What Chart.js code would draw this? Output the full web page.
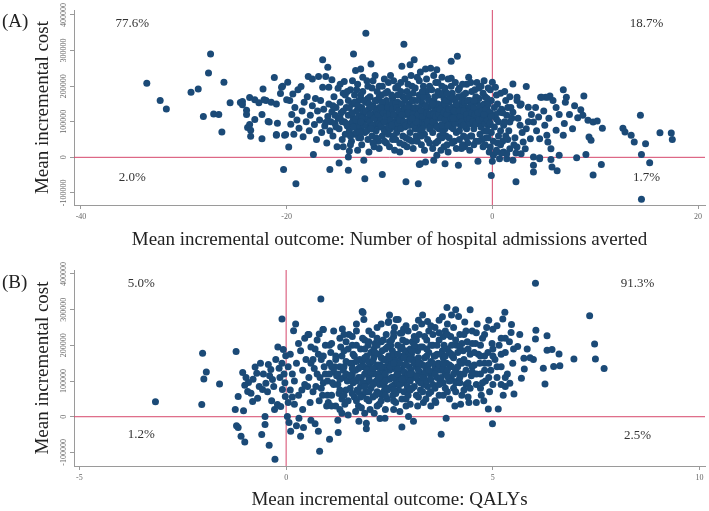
<!DOCTYPE html>
<html>
<head>
<meta charset="utf-8">
<script src="https://cdn.jsdelivr.net/npm/chart.js@4.4.1/dist/chart.umd.min.js"></script>
<style>
  html, body { margin: 0; padding: 0; background: #fff; }
  #wrap { position: relative; width: 709px; height: 511px; }
  .panel { position: absolute; left: 0; width: 709px; }
</style>
</head>
<body>
<div id="wrap">
  <div class="panel" style="top:0;height:255px"><canvas id="chartA" width="709" height="255"></canvas></div>
  <div class="panel" style="top:255px;height:256px"><canvas id="chartB" width="709" height="256"></canvas></div>
</div>
<script>
// Panel A: [hospital admissions averted, incremental cost in thousands]
const panelA = [
  [-33.6,208],[-32.3,160],[-31.7,136],[-29.3,183],[-28.6,192],[-28.1,115],[-27.4,290],[-27.6,237],[-27.1,122],[-26.6,120],[-26.1,211],[-26.3,71],[-25.5,153],
  [-24.5,154],[-24.3,157],[-24.3,148],[-23.9,132],[-23.9,120],[-23.8,84],[-23.5,76],[-23.5,59],[-23.6,168],[-23.1,162],[-22.7,153],[-22.3,192],[-22.4,120],[-23.1,106],[-23.6,92],[-22.4,52],[-21.7,99],[-20.9,96],[-21.2,224],[-21.0,64],[-22.0,160],[-21.5,155],[-21.0,150],[-20.5,197],[-21.8,101],[-21.0,62],[-20.2,62],[-20.0,162],[-22.2,162],
  [-19.9,211],[-19.8,29],[-19.7,160],[-19.6,93],[-19.5,120],[-19.4,178],[-19.3,65],[-19.2,140],[-19.0,105],[-18.9,190],[-18.8,82],[-18.6,199],[-18.5,130],[-18.4,58],[-18.3,155],[-18.1,100],[-18.0,170],[-17.9,227],[-17.8,75],[-17.7,118],[-17.5,220],[-17.5,145],[-17.4,8],[-17.3,92],[-17.2,165],[-17.1,50],[-17.0,130],[-19.1,-74],[-20.3,-34],[-20.4,200],[-20.6,179],[-20.1,64],
  [-16.9,227],[-16.8,105],[-16.7,160],[-16.6,70],[-16.5,274],[-16.5,197],[-16.4,135],[-16.3,88],[-16.2,227],[-16.1,40],[-16.0,253],[-16.0,115],[-15.9,197],[-15.9,150],[-15.8,-34],[-15.8,75],[-15.7,100],[-15.6,218],[-15.6,128],[-15.5,60],[-15.4,170],[-15.3,95],[-15.2,140],[-15.1,30],[-15.0,194],[-15.0,110],[-14.9,-16],[-14.9,80],[-14.8,155],[-14.7,125],[-14.6,50],[-14.5,180],[-14.4,213],[-14.4,100],[-14.3,65],[-14.2,140],[-14.1,88],[-14.0,-36],[-14.0,1],[-14.0,160],[-14.0,118],[-13.9,18],[-14.6,100],[-15.3,118],[-16.2,98],
  [-13.9,75],[-13.8,120],[-13.8,190],[-13.7,45],[-13.7,95],[-13.6,150],[-13.5,290],[-13.5,110],[-13.4,65],[-13.4,175],[-13.3,244],[-13.3,85],[-13.2,130],[-13.1,100],[-13.1,205],[-13.0,55],[-13.0,160],[-12.9,115],[-12.8,248],[-12.8,80],[-12.7,140],[-12.7,35],[-12.6,95],[-12.6,185],[-12.5,-8],[-12.5,125],[-12.4,-60],[-12.4,70],[-12.3,349],[-12.3,155],[-12.2,105],[-12.2,215],[-12.1,50],[-12.0,135],[-12.0,88],[-11.9,170],[-11.8,262],[-11.8,112],[-11.7,60],[-11.7,195],[-11.6,145],[-11.5,90],[-11.5,30],[-11.4,125],[-11.4,230],[-11.3,75],[-11.2,160],[-11.2,105],[-11.1,45],[-11.0,140],[-11.0,200],[-10.9,85],[-10.8,120],[-10.8,175],[-10.7,-48],[-10.7,60],[-10.6,100],[-10.6,150],[-10.5,220],[-10.4,80],[-10.4,130],[-10.3,40],[-10.2,110],[-10.2,185],[-10.1,65],[-10.0,145],[-10.0,95],
  [-13.6,100],[-13.2,70],[-12.9,140],[-12.4,110],[-12.1,165],[-11.6,80],[-11.3,130],[-10.9,110],[-10.5,75],[-10.1,125],[-13.0,90],[-12.6,125],[-11.9,100],[-11.0,95],[-10.3,160],
  [-9.9,230],[-9.9,80],[-9.8,120],[-9.7,50],[-9.7,165],[-9.6,100],[-9.5,140],[-9.5,20],[-9.4,195],[-9.3,70],[-9.3,115],[-9.2,155],[-9.1,90],[-9.0,40],[-9.0,130],[-8.9,210],[-8.8,256],[-8.8,105],[-8.7,60],[-8.7,170],[-8.6,318],[-8.6,140],[-8.5,85],[-8.4,-69],[-8.4,120],[-8.3,30],[-8.3,185],[-8.2,100],[-8.1,150],[-8.0,260],[-8.0,70],[-7.9,125],[-7.8,200],[-7.8,45],[-7.7,95],[-7.6,274],[-7.6,160],[-7.5,110],[-7.4,60],[-7.4,135],[-7.3,225],[-7.2,-74],[-7.2,85],[-7.1,-20],[-7.1,175],[-7.0,240],[-7.0,120],[-7.0,-18],[-6.9,35],[-6.8,150],[-6.8,95],[-6.7,200],[-6.6,65],[-6.6,130],[-6.5,248],[-6.5,-13],[-6.4,105],[-6.3,170],[-6.3,50],[-6.2,140],[-6.1,80],[-6.0,250],[-6.0,115],
  [-9.8,150],[-9.4,85],[-9.1,110],[-8.9,125],[-8.5,160],[-8.1,90],[-7.9,140],[-7.5,80],[-7.2,105],[-6.9,100],[-6.6,110],[-6.2,95],[-9.6,60],[-8.4,55],[-7.7,180],[-6.4,185],[-9.2,175],[-8.0,110],[-6.9,160],[-7.3,130],
  [-5.9,190],[-5.8,70],[-5.8,125],[-5.7,-8],[-5.7,160],[-5.6,95],[-5.5,210],[-5.5,40],[-5.4,246],[-5.4,6],[-5.4,135],[-5.3,110],[-5.2,175],[-5.1,60],[-5.0,145],[-5.0,90],[-4.9,200],[-4.8,120],[-4.7,30],[-4.7,165],[-4.6,-18],[-4.6,80],[-4.5,140],[-4.4,100],[-4.3,220],[-4.2,55],[-4.2,155],[-4.1,115],[-4.0,270],[-4.0,222],[-4.0,85],[-3.9,180],[-3.8,130],[-3.7,45],[-3.7,100],[-3.6,160],[-3.5,70],[-3.4,284],[-3.4,140],[-3.3,-22],[-3.3,115],[-3.2,195],[-3.1,90],[-3.0,25],[-3.0,150],[-2.9,120],[-2.8,60],[-2.8,175],[-2.7,100],[-2.6,140],[-2.5,205],[-2.5,80],[-2.4,40],[-2.3,225],[-2.3,125],[-2.2,160],[-2.1,95],[-2.0,60],[-2.0,185],
  [-5.9,100],[-5.6,140],[-5.2,80],[-4.9,110],[-4.5,60],[-4.3,130],[-3.9,100],[-3.6,115],[-3.2,75],[-2.9,140],[-2.6,110],[-2.2,130],[-5.3,185],[-4.8,150],[-3.8,165],[-3.1,170],[-5.0,20],[-4.4,35],[-2.7,30],[-2.1,60],
  [-1.9,150],[-1.8,80],[-1.8,110],[-1.7,190],[-1.6,45],[-1.5,130],[-1.4,-11],[-1.4,95],[-1.3,165],[-1.2,65],[-1.2,120],[-1.1,200],[-1.0,100],[-0.9,140],[-0.9,30],[-0.8,75],[-0.7,170],[-0.6,110],[-0.6,55],[-0.5,135],[-0.4,195],[-0.4,90],[-0.3,15],[-0.2,29],[-0.2,125],[-0.1,-51],[-0.1,160],[-0.1,70],[-1.5,210],[-0.8,215],[-0.3,100],[-1.0,50],[-1.6,170],[-0.5,75],
  [0.0,211],[0.3,197],[0.8,180],[2.0,206],[3.3,199],[2.4,160],[2.8,150],[2.4,169],[2.7,146],[2.0,127],[1.4,118],[0.7,127],[0.4,108],[1.1,90],[1.7,99],[2.7,90],[0.4,20],[0.1,6],[0.7,-4],[1.4,-4],[2.0,-8],[1.1,15],[1.7,24],[2.4,29],[2.3,-69],[0.0,-11],[2.3,12],[2.8,10],[1.4,10],[0.9,12],[0.4,15],[0.5,150],[0.9,135],[1.3,160],[1.6,75],[0.2,85],[0.6,60],[1.0,45],[2.2,55],[2.5,110],[1.8,140],[0.3,120],[1.2,100],[2.9,70],
  [3.5,141],[4.7,169],[5.2,169],[5.6,172],[5.9,160],[4.0,99],[4.5,113],[4.8,169],[5.4,169],[5.1,90],[5.3,62],[4.6,52],[3.7,52],[3.0,43],[3.2,24],[4.0,1],[4.0,-22],[4.0,-41],[4.6,-4],[5.4,43],[5.7,24],[4.6,-1],[5.7,-6],[5.8,-27],[3.3,80],[3.8,120],[4.3,75],[5.0,130],[3.5,100],[4.2,140],[5.5,110],
  [6.9,190],[7.2,169],[7.1,155],[7.5,120],[8.3,111],[8.9,172],[8.6,134],[8.8,118],[9.3,104],[9.8,99],[6.9,62],[6.2,76],[6.5,6],[6.3,-38],[9.6,48],[9.4,57],[9.1,8],[8.2,-1],[6.5,120],[7.0,95],[7.8,80],[6.2,140],[8.0,145],
  [10.2,102],[10.7,82],[10.6,-20],[9.8,-50],[12.7,82],[12.9,71],[13.5,62],[13.8,43],[14.4,118],[14.9,38],[14.5,8],[15.3,-15],[14.5,-118],[16.3,69],[17.4,68],[17.5,50],
  // dense core
  [-15.5,145],[-15.2,85],[-14.8,110],[-14.5,130],[-14.3,175],[-14.2,95],[-13.9,140],[-13.8,60],[-13.6,125],[-13.5,85],[-13.4,155],[-13.3,105],[-13.1,145],[-13.0,115],[-12.9,70],[-12.8,175],[-12.7,110],[-12.5,90],[-12.5,160],[-12.3,130],[-12.2,75],[-12.0,150],[-11.9,120],[-11.8,140],[-11.7,90],[-11.5,110],[-11.4,160],[-11.3,55],[-11.1,120],[-11.0,170],[-10.9,135],[-10.8,90],[-10.7,155],[-10.6,125],[-10.5,100],[-10.4,180],[-10.3,115],[-10.2,140],[-10.1,85],[-10.0,120],
  [-9.9,105],[-9.8,175],[-9.7,135],[-9.6,120],[-9.5,95],[-9.4,150],[-9.3,140],[-9.2,95],[-9.1,130],[-9.0,105],[-8.9,80],[-8.8,150],[-8.7,120],[-8.6,100],[-8.5,135],[-8.4,90],[-8.3,140],[-8.2,125],[-8.1,170],[-8.0,90],[-7.9,100],[-7.8,160],[-7.7,120],[-7.6,90],[-7.5,140],[-7.4,100],[-7.3,160],[-7.2,120],[-7.1,140],[-7.0,75],[-6.9,130],[-6.8,115],[-6.7,170],[-6.6,90],[-6.5,145],[-6.4,125],[-6.3,100],[-6.2,160],[-6.1,120],[-6.0,85],
  [-5.9,145],[-5.8,100],[-5.7,120],[-5.6,170],[-5.5,115],[-5.4,85],[-5.3,150],[-5.2,120],[-5.1,135],[-5.0,110],[-4.9,90],[-4.8,180],[-4.7,125],[-4.6,105],[-4.5,160],[-4.4,120],[-4.3,90],[-4.2,135],[-4.1,170],[-4.0,110],[-3.9,140],[-3.8,80],[-3.7,130],[-3.6,95],[-3.5,150],[-3.4,110],[-3.3,170],[-3.2,130],[-3.1,115],[-3.0,100],[-2.9,160],[-2.8,130],[-2.7,155],[-2.6,85],[-2.5,120],[-2.4,160],[-2.3,95],[-2.2,110],[-2.1,145],[-2.0,125],
  [-1.9,100],[-1.8,140],[-1.7,120],[-1.6,95],[-1.5,155],[-1.4,125],[-1.3,105],[-1.2,145],[-1.1,85],[-1.0,130],[-0.9,110],[-0.8,150],[-0.7,95],[-0.6,135],[-0.5,105],[-0.4,150],[-0.3,125],[-0.2,95],[-0.1,115],[0.2,140],[0.6,100],[1.0,125],[1.5,140],[0.8,75],[1.9,110],[1.3,60],[0.5,40],
  [-14.8,205],[-14.1,185],[-13.6,215],[-13.2,190],[-12.6,225],[-12.1,200],[-11.6,215],[-11.2,185],[-10.7,200],[-10.1,210],[-9.6,215],[-9.2,200],[-8.9,185],[-8.5,220],[-8.2,205],[-7.9,230],[-7.5,195],[-7.1,215],[-6.8,185],[-6.4,220],[-6.1,200],[-5.7,230],[-5.3,210],[-4.9,225],[-4.6,195],[-4.4,180],[-4.0,200],[-3.6,210],[-3.3,190],[-2.9,205],[-2.6,180],[-2.1,210],[-1.7,160],[-1.3,195],[-0.9,180],[-0.5,165],[-0.2,190],[0.4,175],[1.2,185],[1.7,170],
  [-14.5,30],[-13.8,35],[-13.1,20],[-12.8,55],[-12.0,15],[-11.6,40],[-11.0,25],[-10.5,45],[-10.0,30],[-9.4,50],[-9.0,15],[-8.6,35],[-8.1,50],[-7.7,25],[-7.3,45],[-6.9,60],[-6.6,20],[-6.1,40],[-5.8,25],[-5.3,45],[-4.9,55],[-4.3,15],[-3.9,40],[-3.5,25],[-3.2,50],[-2.9,35],[-2.5,55],[-2.2,20],[-1.8,35],[-1.3,45],[-0.7,35],[-0.4,55],[0.1,45],[0.8,35],[1.5,50],[2.1,35],
  [-12.8,100],[-11.8,80],[-10.8,140],[-9.8,90],[-8.8,120],[-7.8,110],[-6.8,80],[-5.8,150],[-4.8,70],[-3.8,110],[-2.8,90],[-1.8,160],[-0.8,120]
];

// Panel B: [QALYs gained, incremental cost in thousands]
const panelB = [
  [-3.16,42],[-2.04,34],[-2.02,178],[-1.99,106],[-1.93,125],[-1.61,92],
  [-1.21,183],[-1.16,57],[-1.23,20],[-1.03,17],[-1.2,-25],[-1.16,-30],[-1.09,-55],[-1.0,-71],[-1.05,124],[-0.97,110],[-0.91,96],[-0.93,71],[-0.85,66],[-0.75,139],[-0.71,122],[-0.81,43],[-0.69,52],[-0.59,-50],[-0.51,1],[-0.51,-22],[-0.65,85],[-0.57,76],[-1.0,88],[-0.8,105],[-0.62,150],[-0.55,120],
  [-0.41,-80],[-0.27,-119],[-0.43,146],[-0.37,132],[-0.33,104],[-0.25,160],[-0.17,136],[-0.09,76],[-0.02,57],[-0.07,188],[-0.10,274],[-0.01,171],[-0.49,94],[-0.28,20],[-0.21,34],[-0.13,29],[-0.45,70],[-0.3,85],[-0.15,110],[-0.05,120],[-0.35,45],[-0.2,195],[-0.4,115],[-0.1,150],[-0.03,95],
  [0.03,1],[0.07,-16],[0.11,-41],[0.35,-55],[0.31,-4],[0.23,260],[0.18,241],[0.05,40],[0.1,75],[0.15,120],[0.2,100],[0.25,150],[0.3,60],[0.35,185],[0.4,130],[0.45,90],[0.1,175],[0.2,35],[0.4,20],[0.45,220],[0.3,205],[0.05,140],[0.15,55],[0.25,-25],[0.42,-30],[0.48,160],[0.38,75],
  [0.53,230],[0.80,232],[0.89,244],[0.84,330],[0.55,230],[0.90,244],[0.78,-41],[0.81,-97],[0.6,-10],[0.7,-20],[0.55,110],[0.6,150],[0.65,70],[0.7,190],[0.75,120],[0.8,45],[0.85,160],[0.9,95],[0.95,200],[0.58,40],[0.68,135],[0.72,85],[0.78,175],[0.82,110],[0.88,60],[0.92,140],[0.98,30],[0.6,195],[0.75,215],[0.95,120],[0.52,85],[0.65,160],[0.85,80],
  [1.05,-63],[1.26,-44],[1.36,246],[1.0,100],[1.05,150],[1.1,60],[1.1,205],[1.15,125],[1.2,30],[1.2,170],[1.25,90],[1.3,140],[1.3,220],[1.35,50],[1.4,110],[1.4,185],[1.45,75],[1.45,155],[1.5,5],[1.02,40],[1.08,180],[1.12,95],[1.18,140],[1.22,115],[1.28,65],[1.32,195],[1.38,130],[1.42,35],[1.48,100],[1.15,240],[1.25,-10],[1.35,10],[1.05,120],[1.45,210],
  [1.84,295],[1.86,292],[1.88,272],[1.94,-34],[1.94,-18],[1.76,-13],[1.55,80],[1.55,150],[1.6,120],[1.6,200],[1.65,55],[1.65,170],[1.7,100],[1.7,240],[1.75,135],[1.75,30],[1.8,85],[1.8,190],[1.85,155],[1.85,60],[1.9,120],[1.9,215],[1.95,95],[1.95,170],[2.0,45],[1.58,110],[1.62,175],[1.68,130],[1.72,75],[1.78,160],[1.82,110],[1.88,140],[1.92,70],[1.98,135],[1.52,230],[1.68,15],[1.82,25],[1.62,95],[1.98,200],
  [2.39,-4],[2.47,264],[2.48,267],[2.0,110],[2.02,150],[2.05,180],[2.05,80],[2.08,230],[2.1,120],[2.1,55],[2.12,165],[2.15,95],[2.15,205],[2.18,140],[2.2,70],[2.2,250],[2.22,115],[2.25,175],[2.25,35],[2.28,145],[2.3,100],[2.3,210],[2.32,60],[2.35,160],[2.35,125],[2.38,85],[2.4,190],[2.42,140],[2.42,230],[2.45,105],[2.45,50],[2.48,170],[2.5,130],[2.5,80],[2.03,20],[2.13,10],[2.27,-5],[2.4,20],[2.08,130],[2.18,100],[2.28,125],[2.38,110],[2.45,155],[2.12,190],[2.22,145],[2.32,185],[2.02,100],[2.36,70],[2.26,90],[2.16,60],
  [2.66,272],[2.71,272],[2.84,246],[2.76,234],[2.80,-29],[2.96,1],[2.53,200],[2.55,110],[2.55,155],[2.58,60],[2.6,135],[2.6,225],[2.62,90],[2.65,175],[2.65,40],[2.68,120],[2.7,150],[2.7,200],[2.72,75],[2.75,110],[2.78,165],[2.8,130],[2.8,50],[2.82,215],[2.85,95],[2.85,145],[2.88,185],[2.9,120],[2.9,70],[2.92,160],[2.95,240],[2.95,105],[2.98,140],[3.0,190],[2.57,185],[2.63,160],[2.67,100],[2.73,130],[2.77,190],[2.83,170],[2.87,110],[2.93,85],[2.97,175],[2.6,20],[2.75,15],[2.9,30],[2.52,140],[2.62,250],[2.7,95],[2.86,125],
  [3.08,-13],[3.42,267],[3.02,130],[3.05,80],[3.05,210],[3.08,160],[3.1,110],[3.12,250],[3.15,140],[3.15,60],[3.18,185],[3.2,100],[3.22,230],[3.25,150],[3.25,75],[3.28,120],[3.3,195],[3.32,40],[3.35,165],[3.35,105],[3.38,135],[3.4,215],[3.42,85],[3.45,180],[3.48,120],[3.5,155],[3.03,175],[3.13,195],[3.23,125],[3.33,90],[3.43,145],[3.18,30],[3.38,50],[3.28,260],[3.1,225],[3.45,240],
  [3.75,-49],[3.87,-4],[3.89,306],[3.55,200],[3.55,90],[3.6,140],[3.6,250],[3.65,110],[3.65,175],[3.7,60],[3.7,215],[3.75,130],[3.78,280],[3.8,95],[3.8,165],[3.85,240],[3.85,120],[3.9,190],[3.9,70],[3.95,145],[3.98,225],[4.0,105],[3.58,170],[3.68,150],[3.72,100],[3.82,200],[3.88,150],[3.92,110],[3.62,40],[3.95,50],[3.52,125],[3.78,185],
  [4.45,300],[4.17,281],[4.02,170],[4.05,250],[4.05,80],[4.1,130],[4.12,200],[4.15,100],[4.2,230],[4.2,155],[4.25,60],[4.28,185],[4.3,120],[4.32,265],[4.35,90],[4.38,210],[4.4,150],[4.42,40],[4.45,175],[4.48,115],[4.5,240],[4.08,30],[4.22,35],[4.3,75],[4.4,95],[4.15,140],
  [4.99,-20],[4.89,22],[4.55,145],[4.58,205],[4.6,90],[4.62,260],[4.65,175],[4.7,120],[4.72,60],[4.75,220],[4.8,150],[4.82,100],[4.85,250],[4.88,180],[4.92,70],[4.95,130],[4.98,205],[4.6,40],[4.78,45],[4.68,150],[4.9,110],
  [5.13,22],[5.25,60],[5.51,64],[5.41,94],[5.29,293],[5.24,274],[5.45,258],[5.44,236],[5.05,160],[5.1,110],[5.15,200],[5.2,140],[5.3,180],[5.35,120],[5.4,210],[5.48,150],[5.0,245],[5.2,90],
  [5.98,160],[5.75,164],[5.83,190],[5.76,134],[5.69,108],[5.60,197],[6.03,374],[6.04,242],[6.03,218],[6.22,136],[6.26,92],[6.31,186],[6.31,227],[6.43,188],[6.47,141],[6.62,143],[6.60,176],[6.96,162],[5.65,230],[5.9,165],
  [7.34,283],[7.46,204],[7.48,162],[7.69,135],
  // dense core
  [0.9,170],[1.0,60],[1.05,200],[1.1,140],[1.15,90],[1.2,160],[1.25,120],[1.3,75],[1.35,170],[1.4,140],[1.45,120],[1.5,190],[1.55,115],[1.6,65],[1.6,150],[1.65,100],[1.7,200],[1.7,155],[1.75,70],[1.75,110],[1.8,140],[1.85,95],[1.85,220],[1.9,165],[1.95,130],[1.95,50],[2.0,155],[2.0,210],[2.05,125],[2.1,90],[2.1,155],[2.15,180],[2.2,120],[2.2,200],[2.25,65],[2.25,110],[2.3,165],[2.3,140],[2.35,95],[2.35,215],[2.4,120],[2.4,160],[2.45,75],[2.45,195],[2.5,105],[2.5,165],[2.55,85],[2.55,215],[2.6,110],[2.6,175],[2.65,140],[2.65,65],[2.7,120],[2.7,175],[2.75,90],[2.75,150],[2.8,105],[2.8,195],[2.85,70],[2.85,165],[2.9,145],[2.9,210],[2.95,120],[2.95,60],[3.0,100],[3.0,160],[3.05,120],[3.05,185],[3.1,85],[3.1,150],[3.15,115],[3.15,215],[3.2,165],[3.2,130],[3.25,95],[3.25,195],[3.3,145],[3.3,70],[3.35,120],[3.35,225],[3.4,100],[3.4,170],[3.45,130],[3.45,65],[3.5,200],[3.5,105],[3.55,150],[3.55,230],[3.6,80],[3.6,170],[3.65,130],[3.65,200],[3.7,145],[3.7,90],[3.75,175],[3.75,110],[3.8,135],[3.8,225],[3.85,80],[3.85,170],[3.9,130],[3.9,230],[3.95,100],[3.95,180],[4.0,140],[4.0,200],[4.05,120],[4.05,165],[4.1,95],[4.1,215],[4.15,180],[4.2,120],[4.25,150],[4.25,205],[4.3,160],[4.35,130],[4.35,240],[4.4,190],[4.45,80],[4.5,140],[4.55,180],[4.6,120],[4.7,200],[4.75,95],[4.8,170],[4.9,150],[5.0,190],[5.1,140],[5.2,175],[5.3,110],[1.3,20],[1.9,10],[2.6,45],[3.0,35],[3.5,30],[1.5,45],[2.2,30],
  [1.4,230],[1.7,260],[2.0,240],[2.3,260],[2.6,235],[2.9,255],[3.2,270],[3.5,255],[3.7,270],[4.0,285],[4.3,230],[4.6,235],[4.9,270],[5.1,255],[5.3,220],[3.3,285],[2.5,285],[4.1,300],[3.9,260],[4.8,230],
  [1.6,225],[1.9,190],[2.2,220],[2.5,210],[2.8,235],[3.1,200],[3.4,190],[3.7,235],[4.0,175],[4.2,195],[4.5,205],[4.7,170],[5.0,170],[5.2,220],[5.5,190],
  [1.1,30],[1.4,60],[1.7,45],[2.0,70],[2.3,45],[2.6,75],[2.9,50],[3.2,55],[3.5,70],[3.8,60],[4.1,70],[4.4,55],[4.7,80],[5.0,90],[5.3,85],[1.8,55],[2.4,60],[3.0,75],[3.6,45],[4.2,95],
  [1.3,105],[1.6,135],[1.9,85],[2.1,135],[2.4,100],[2.7,135],[3.0,120],[3.3,110],[3.6,120],[3.9,115],[4.2,110],[4.5,125],[4.8,130],[2.6,150],[3.2,150],[3.8,150]
];

const xTicksA = [-40, -20, 0, 20];
const xTicksB = [-5, 0, 5, 10];
const yTicks = [-100000, 0, 100000, 200000, 300000, 400000];
const sharesA = ['77.6%', '18.7%', '2.0%', '1.7%'];
const sharesB = ['5.0%', '91.3%', '1.2%', '2.5%'];
// where the quadrant shares sit, in data units
const sharePosA = [[-35, 375000], [15, 375000], [-35, -56000], [15, -56000]];
const sharePosB = [[-3.5, 372000], [8.5, 372000], [-3.5, -50000], [8.5, -52000]];

const SERIF = '"Liberation Serif", "Times New Roman", serif';
const DOT = '#1b4a77';
const REF = '#d6476b';
const AXIS = '#9a9a9a';

const annotate = {
  id: 'annotate',
  afterDraw(chart, args, o) {
    const { ctx, chartArea, scales: { x, y } } = chart;
    ctx.save();
    ctx.textAlign = 'center';
    ctx.textBaseline = 'middle';
    // rotated y tick labels, as in the original
    ctx.font = '8px ' + SERIF;
    ctx.fillStyle = '#666';
    y.ticks.forEach(t => {
      ctx.save();
      ctx.translate(chartArea.left - 10, y.getPixelForValue(t.value));
      ctx.rotate(-Math.PI / 2);
      ctx.fillText(String(t.value), 0, 0);
      ctx.restore();
    });
    ctx.font = '13px ' + SERIF;
    ctx.fillStyle = '#333';
    o.shares.forEach((s, i) => {
      ctx.fillText(s, x.getPixelForValue(o.pos[i][0]), y.getPixelForValue(o.pos[i][1]));
    });
    ctx.font = '19px ' + SERIF;
    ctx.fillStyle = '#222';
    ctx.textAlign = 'left';
    ctx.fillText(o.letter, 2, o.letterY);
    ctx.restore();
  }
};

function makeChart(id, p) {
  const pts = p.points.map(d => ({ x: d[0], y: d[1] * 1000 }));
  return new Chart(document.getElementById(id), {
    type: 'scatter',
    data: {
      datasets: [
        { data: pts, backgroundColor: DOT, borderWidth: 0, pointRadius: 3.5, order: 0 },
        { data: [{ x: 0, y: p.ymin }, { x: 0, y: p.ymax }], showLine: true, borderColor: REF, borderWidth: 1, pointRadius: 0, order: 1 },
        { data: [{ x: p.xmin, y: 0 }, { x: p.xmax, y: 0 }], showLine: true, borderColor: REF, borderWidth: 1, pointRadius: 0, order: 1 }
      ]
    },
    options: {
      responsive: false,
      animation: false,
      events: [],
      layout: { padding: { left: 0, right: 2, top: p.top, bottom: 0 } },
      plugins: {
        legend: { display: false },
        tooltip: { enabled: false },
        annotate: { shares: p.shares, pos: p.sharePos, letter: p.letter, letterY: p.letterY }
      },
      scales: {
        x: {
          type: 'linear', min: p.xmin, max: p.xmax,
          afterBuildTicks: s => { s.ticks = p.xTicks.map(v => ({ value: v })); },
          afterFit: s => { s.height = p.xHeight; },
          grid: { drawOnChartArea: false, drawTicks: true, tickLength: 4, color: AXIS },
          border: { display: true, color: AXIS },
          ticks: { font: { family: SERIF, size: 8 }, color: '#666', padding: 3, maxRotation: 0, autoSkip: false },
          title: { display: true, text: p.xTitle, font: { family: SERIF, size: 19 }, color: '#222', padding: { top: 0, bottom: p.xTitlePad } }
        },
        y: {
          type: 'linear', min: p.ymin, max: p.ymax,
          afterBuildTicks: s => { s.ticks = yTicks.map(v => ({ value: v })); },
          afterFit: s => { s.width = 74; },
          grid: { drawOnChartArea: false, drawTicks: true, tickLength: 4, color: AXIS },
          border: { display: true, color: AXIS },
          ticks: { display: false },
          title: { display: true, text: 'Mean incremental cost', font: { family: SERIF, size: 19 }, color: '#222', padding: { top: 32, bottom: 0 } }
        }
      }
    },
    plugins: [annotate]
  });
}

makeChart('chartA', {
  points: panelA, xTicks: xTicksA, shares: sharesA, sharePos: sharePosA,
  xmin: -40.68, xmax: 20.68, ymin: -134000, ymax: 414000,
  top: 10, xHeight: 50, xTitlePad: 4, letter: '(A)', letterY: 22,
  xTitle: 'Mean incremental outcome: Number of hospital admissions averted'
});

makeChart('chartB', {
  points: panelB, xTicks: xTicksB, shares: sharesB, sharePos: sharePosB,
  xmin: -5.13, xmax: 10.13, ymin: -138000, ymax: 411000,
  top: 15, xHeight: 45, xTitlePad: 0, letter: '(B)', letterY: 28,
  xTitle: 'Mean incremental outcome: QALYs'
});
</script>
</body>
</html>
